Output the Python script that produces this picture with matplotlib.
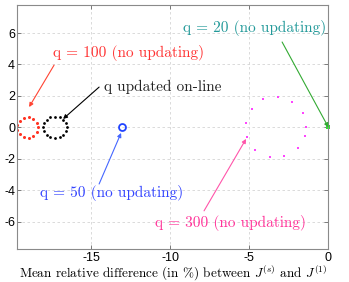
import matplotlib
matplotlib.use('Agg')
from matplotlib import pyplot as plt

plt.rcParams['mathtext.fontset'] = 'cm'
plt.rcParams['axes.unicode_minus'] = False

# q = 100 (no updating), red ring of points
red_x = [-18.40, -18.47, -18.68, -18.97, -19.28, -19.54, -19.68,
         -19.68, -19.54, -19.28, -18.97, -18.68, -18.47]
red_y = [0.00, 0.30, 0.53, 0.65, 0.61, 0.43, 0.16,
         -0.16, -0.43, -0.61, -0.65, -0.53, -0.30]

# q updated on-line, black ring of points
black_x = [-16.55, -16.61, -16.77, -17.01, -17.30, -17.59, -17.83, -17.99,
           -18.05, -17.99, -17.83, -17.59, -17.30, -17.01, -16.77, -16.61]
black_y = [0.00, 0.26, 0.48, 0.63, 0.68, 0.63, 0.48, 0.26,
           0.00, -0.26, -0.48, -0.63, -0.68, -0.63, -0.48, -0.26]

# q = 50 (no updating)
blue_x = [-13.05]
blue_y = [0.0]

# q = 300 (no updating)
mag_x = [-4.11, -3.16, -2.28, -1.58, -1.39, -1.46, -1.90,
         -2.78, -3.67, -4.62, -5.13, -5.19, -4.81]
mag_y = [1.78, 1.90, 1.59, 0.89, 0.00, -0.57, -1.33,
         -1.84, -1.90, -1.46, -0.63, 0.25, 1.14]

# q = 20 (no updating)
green_x = [0.0]
green_y = [0.0]

x_ticks = [-15, -10, -5, 0]
y_ticks = [-6, -4, -2, 0, 2, 4, 6]

fig = plt.figure(figsize=(3.49, 2.82), dpi=100)
ax = fig.add_axes([0.049, 0.117, 0.892, 0.866])

ax.plot(red_x, red_y, 'o', color='#ff3322', ms=2.2, mew=0)
ax.plot(black_x, black_y, 'o', color='black', ms=2.0, mew=0)
ax.plot(blue_x, blue_y, 'o', mfc='none', mec='#2244ff', ms=5, mew=1.3)
ax.plot(mag_x, mag_y, 's', color='#ff44ff', ms=2.0, mew=0)
ax.plot(green_x, green_y, 's', color='#33dd33', ms=2.5, mew=0, clip_on=False)

ax.set_xlim(-19.7, 0)
ax.set_ylim(-7.75, 7.8)
ax.set_xticks(x_ticks)
ax.set_yticks(y_ticks)
ax.grid(True, color='#d4d4d4', linestyle=(0, (3, 3)), linewidth=0.6)
ax.set_axisbelow(True)
for s in ax.spines.values():
  s.set_color('#8a8a8a')
  s.set_linewidth(0.8)
ax.tick_params(direction='in', length=3, width=0.6, color='#666666',
               top=True, right=True, labelsize=9)
ax.tick_params(axis='x', pad=2.5)
ax.tick_params(axis='y', pad=1.5)
for lab in ax.get_xticklabels() + ax.get_yticklabels():
  lab.set_family('Liberation Sans')

ax.set_xlabel(r'Mean relative difference (in $\%$) between $J^{(s)}$ and $J^{(1)}$',
              family='cmr10', fontsize=9.5, labelpad=-1)


def note(text, xy, xytext, tcolor, acolor, txy, ha='left'):
  ax.annotate('', xy=xy, xytext=xytext,
              arrowprops=dict(arrowstyle='-|>', color=acolor, lw=0.8,
                              mutation_scale=6, shrinkA=0, shrinkB=0))
  ax.text(txy[0], txy[1], text, color=tcolor, family='cmr10',
          fontsize=11, ha=ha, va='center')


note('q = 100 (no updating)', (-18.94, 1.29), (-17.36, 3.96),
     '#ff3333', '#ff4433', (-17.42, 4.73))
note('q updated on-line', (-16.79, 0.53), (-14.51, 2.56),
     '#222222', 'black', (-14.19, 2.56))
note('q = 20 (no updating)', (0.0, 0.0), (-2.93, 5.43),
     '#229999', '#33aa33', (-4.64, 6.32), ha='center')
note('q = 50 (no updating)', (-13.12, -0.36), (-14.51, -3.61),
     '#3344ff', '#4466ff', (-18.25, -4.18))
note('q = 300 (no updating)', (-5.21, -0.74), (-7.87, -5.32),
     '#ff3399', '#ff55aa', (-10.96, -6.09))

fig.savefig('out.png', dpi=100)
